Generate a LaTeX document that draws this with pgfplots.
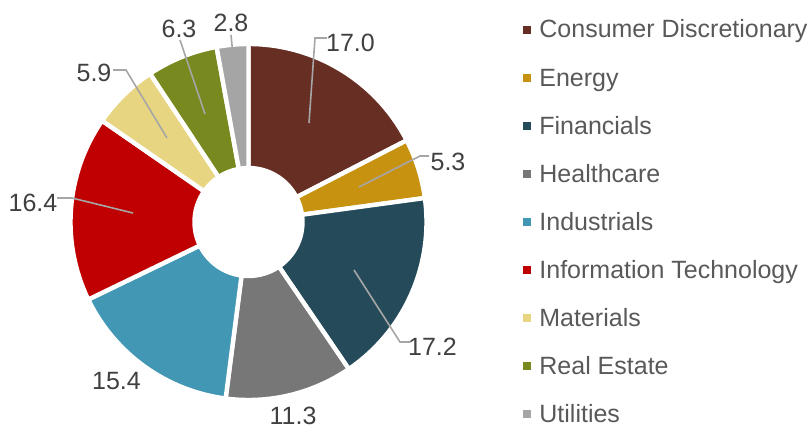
\documentclass[border=0pt]{standalone}
\usepackage{pgfplots}
\pgfplotsset{compat=1.18}
\usepackage{pgfplotstable}
\usepackage{fontspec}
\setmainfont{Liberation Sans}
\definecolor{slice0}{HTML}{672E23}
\definecolor{slice1}{HTML}{C89211}
\definecolor{slice2}{HTML}{254B5A}
\definecolor{slice3}{HTML}{777777}
\definecolor{slice4}{HTML}{4297B4}
\definecolor{slice5}{HTML}{C00000}
\definecolor{slice6}{HTML}{E8D581}
\definecolor{slice7}{HTML}{78891F}
\definecolor{slice8}{HTML}{A5A5A5}
\definecolor{lbl}{HTML}{404040}
\definecolor{leg}{HTML}{595959}
\definecolor{lead}{HTML}{A6A6A6}
\pgfplotstableread[col sep=comma]{
sector,value,lx,ly
Consumer Discretionary,17.0,350.5,52
Energy,5.3,448,170
Financials,17.2,432.5,355
Healthcare,11.3,293,424.5
Industrials,15.4,116.5,389
Information Technology,16.4,33,211
Materials,5.9,94,82
Real Estate,6.3,179,38
Utilities,2.8,231,32
}\sectors
\begin{document}
\begin{tikzpicture}
\gdef\total{0}%
\pgfplotsforeachungrouped \i in {0,...,8}{%
  \pgfplotstablegetelem{\i}{value}\of\sectors
  \pgfmathsetmacro\tmp{\total+\pgfplotsretval}%
  \xdef\total{\tmp}%
}%
\gdef\cum{0}%
\pgfplotsforeachungrouped \i in {0,...,8}{%
  \pgfplotstablegetelem{\i}{value}\of\sectors
  \expandafter\xdef\csname val\i\endcsname{\pgfplotsretval}%
  \pgfmathsetmacro\sa{90-(\cum/\total)*360}%
  \pgfmathsetmacro\tmp{\cum+\pgfplotsretval}%
  \xdef\cum{\tmp}%
  \pgfmathsetmacro\ea{90-(\cum/\total)*360}%
  \expandafter\xdef\csname sa\i\endcsname{\sa}%
  \expandafter\xdef\csname ea\i\endcsname{\ea}%
  \pgfplotstablegetelem{\i}{sector}\of\sectors
  \expandafter\xdef\csname name\i\endcsname{\pgfplotsretval}%
  \pgfplotstablegetelem{\i}{lx}\of\sectors
  \expandafter\xdef\csname lx\i\endcsname{\pgfplotsretval}%
  \pgfplotstablegetelem{\i}{ly}\of\sectors
  \expandafter\xdef\csname ly\i\endcsname{\pgfplotsretval}%
}%
\begin{axis}[
  hide axis, scale only axis,
  width=405pt, height=214pt,
  xmin=0, xmax=810, ymin=0, ymax=428,
  y dir=reverse, clip=false,
]
\coordinate (BL) at (axis cs:0,428);
\coordinate (TR) at (axis cs:810,0);
\coordinate (C) at (axis cs:248.5,222);
\pgfplotsinvokeforeach{0,...,8}{
  \filldraw[fill=slice#1, draw=white, line width=2.2pt]
    ([shift={(\csname sa#1\endcsname:89pt)}]C)
    arc[start angle=\csname sa#1\endcsname, end angle=\csname ea#1\endcsname, radius=89pt]
    -- ([shift={(\csname ea#1\endcsname:27pt)}]C)
    arc[start angle=\csname ea#1\endcsname, end angle=\csname sa#1\endcsname, radius=27pt]
    -- cycle;
}
% leader lines
\draw[lead, line width=0.8pt] (axis cs:309,123) -- (axis cs:315,38) -- (axis cs:327,38);
\draw[lead, line width=0.8pt] (axis cs:359,187) -- (axis cs:420,156) -- (axis cs:429,156);
\draw[lead, line width=0.8pt] (axis cs:354,270) -- (axis cs:400,342) -- (axis cs:410,342);
\draw[lead, line width=0.8pt] (axis cs:133,213) -- (axis cs:72,198) -- (axis cs:57,198);
\draw[lead, line width=0.8pt] (axis cs:167,138) -- (axis cs:126,70) -- (axis cs:113,70);
\draw[lead, line width=0.8pt] (axis cs:205,114) -- (axis cs:180,40);
\draw[lead, line width=0.8pt] (axis cs:238,106) -- (axis cs:231,35);
% data labels
\pgfplotsinvokeforeach{0,...,8}{
  \node[anchor=base, inner sep=0pt, text=lbl, font=\fontsize{12.5}{15}\selectfont]
    at (axis cs:\csname lx#1\endcsname,\csname ly#1\endcsname) {\csname val#1\endcsname};
}
% legend
\pgfplotsinvokeforeach{0,...,8}{
  \fill[slice#1] (axis cs:523,{25.5+48*#1}) rectangle (axis cs:531,{33.5+48*#1});
  \node[anchor=base west, inner sep=0pt, text=leg, font=\fontsize{12.5}{15}\selectfont]
    at (axis cs:539,{38+48*#1}) {\csname name#1\endcsname};
}
\end{axis}
\pgfresetboundingbox
\useasboundingbox (BL) rectangle (TR);
\end{tikzpicture}
\end{document}
